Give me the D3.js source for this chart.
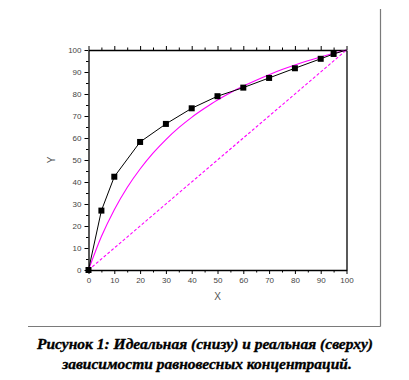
<!DOCTYPE html>
<html><head><meta charset="utf-8">
<script src="https://cdn.jsdelivr.net/npm/d3@7"></script>
<style>body{margin:0;background:#fff}svg{display:block}</style>
</head><body>
<svg id="c" width="409" height="380"></svg>
<script>
// Real (upper) equilibrium data – black squares
const realX = [0, 5, 10, 20, 30, 40, 50, 60, 70, 80, 90, 95, 100];
const realY = [0, 27, 42.4, 58.2, 66.4, 73.5, 79, 82.9, 87.3, 91.7, 96, 98.2, 100];
const realMarkX = [0, 5, 10, 20, 30, 40, 50, 60, 70, 80, 90, 95];
// Ideal (lower) curve – magenta solid
const idealX = [0, 5, 10, 15, 20, 25, 30, 35, 40, 45, 50, 55, 60, 65, 70, 75, 80, 85, 90, 95, 100];
const idealY = [0, 15.2, 27.4, 37.5, 45.9, 53.1, 59.3, 64.7, 69.4, 73.5, 77.3, 80.6, 83.6, 86.3, 88.8, 91.1, 93.2, 95.1, 96.8, 98.5, 100];
// Diagonal y = x – magenta dashed
const diagX = [0, 100];
const diagY = [0, 100];
const xTicks = [0, 10, 20, 30, 40, 50, 60, 70, 80, 90, 100];
const yTicks = [0, 10, 20, 30, 40, 50, 60, 70, 80, 90, 100];
const minorTicks = [5, 15, 25, 35, 45, 55, 65, 75, 85, 95];
const xLabel = "X", yLabel = "Y";
const caption1 = "Рисунок 1: Идеальная (снизу) и реальная (сверху)";
const caption2 = "зависимости равновесных концентраций.";

const svg = d3.select("#c");
const x = d3.scaleLinear().domain([0, 100]).range([88.5, 346.5]);
const y = d3.scaleLinear().domain([0, 100]).range([270, 50]);

// outer frame lines
svg.append("line").attr("x1", 380.5).attr("x2", 380.5).attr("y1", 9).attr("y2", 326.5)
  .attr("stroke", "#7a7a7a").attr("stroke-width", 1.2);
svg.append("line").attr("x1", 28).attr("x2", 380.5).attr("y1", 326.5).attr("y2", 326.5)
  .attr("stroke", "#7a7a7a").attr("stroke-width", 1.2);

function styleAxis(g, labels) {
  g.select(".domain").attr("stroke", "#000").attr("stroke-width", 1.3);
  g.selectAll(".tick line").attr("stroke", "#000").attr("stroke-width", 1);
  g.selectAll(".tick text").attr("fill", "#444").attr("font-family", "Liberation Sans, Arial, sans-serif")
    .attr("font-size", 8).style("display", labels ? null : "none");
}

// minor ticks
const minorAxes = [
  [d3.axisLeft(y), `translate(${x(0)},0)`],
  [d3.axisBottom(x), `translate(0,${y(0)})`],
  [d3.axisTop(x), `translate(0,${y(100)})`]
];
minorAxes.forEach(([ax, tr]) => {
  const g = svg.append("g").attr("transform", tr)
    .call(ax.tickValues(minorTicks).tickSize(2.5).tickFormat(""));
  g.select(".domain").remove();
  g.selectAll(".tick line").attr("stroke", "#000");
});

const gl = svg.append("g").attr("transform", `translate(${x(0)},0)`)
  .call(d3.axisLeft(y).tickValues(yTicks).tickSize(4).tickPadding(3).tickSizeOuter(0));
styleAxis(gl, true);
const gb = svg.append("g").attr("transform", `translate(0,${y(0)})`)
  .call(d3.axisBottom(x).tickValues(xTicks).tickSize(4).tickPadding(3).tickSizeOuter(0));
styleAxis(gb, true);
const gt = svg.append("g").attr("transform", `translate(0,${y(100)})`)
  .call(d3.axisTop(x).tickValues(xTicks).tickSize(4).tickSizeOuter(0));
styleAxis(gt, false);
const gr = svg.append("g").attr("transform", `translate(${x(100)},0)`)
  .call(d3.axisRight(y).tickValues([]).tickSizeOuter(0));
styleAxis(gr, false);

// axis titles
svg.append("text").attr("x", (x(0) + x(100)) / 2).attr("y", 300).attr("text-anchor", "middle")
  .attr("font-family", "Liberation Sans, Arial, sans-serif").attr("font-size", 10).attr("fill", "#555").text(xLabel);
svg.append("text").attr("transform", `translate(55,${(y(0) + y(100)) / 2}) rotate(-90)`).attr("text-anchor", "middle")
  .attr("font-family", "Liberation Sans, Arial, sans-serif").attr("font-size", 10).attr("fill", "#555").text(yLabel);

const line = d3.line().x(d => x(d[0])).y(d => y(d[1]));
const curve = d3.line().x(d => x(d[0])).y(d => y(d[1])).curve(d3.curveMonotoneX);

svg.append("path").datum(diagX.map((v, i) => [v, diagY[i]])).attr("d", line)
  .attr("fill", "none").attr("stroke", "#ff00ff").attr("stroke-width", 1.1).attr("stroke-dasharray", "3,2");
svg.append("path").datum(idealX.map((v, i) => [v, idealY[i]])).attr("d", curve)
  .attr("fill", "none").attr("stroke", "#ff00ff").attr("stroke-width", 1.1);
svg.append("path").datum(realX.map((v, i) => [v, realY[i]])).attr("d", line)
  .attr("fill", "none").attr("stroke", "#000").attr("stroke-width", 1);
svg.selectAll("rect.pt").data(realMarkX).enter().append("rect").attr("class", "pt")
  .attr("x", d => x(d) - 3).attr("y", (d, i) => y(realY[i]) - 3).attr("width", 6).attr("height", 6).attr("fill", "#000");

// caption
const cap = svg.append("text").attr("text-anchor", "middle")
  .attr("font-family", "Liberation Serif, 'Times New Roman', serif").attr("font-size", 15.5)
  .attr("font-weight", "bold").attr("font-style", "italic").attr("fill", "#000")
  .attr("stroke", "#000").attr("stroke-width", 0.35);
cap.append("tspan").attr("x", 205).attr("y", 349).text(caption1);
cap.append("tspan").attr("x", 207).attr("y", 369).text(caption2);
</script>
</body></html>
